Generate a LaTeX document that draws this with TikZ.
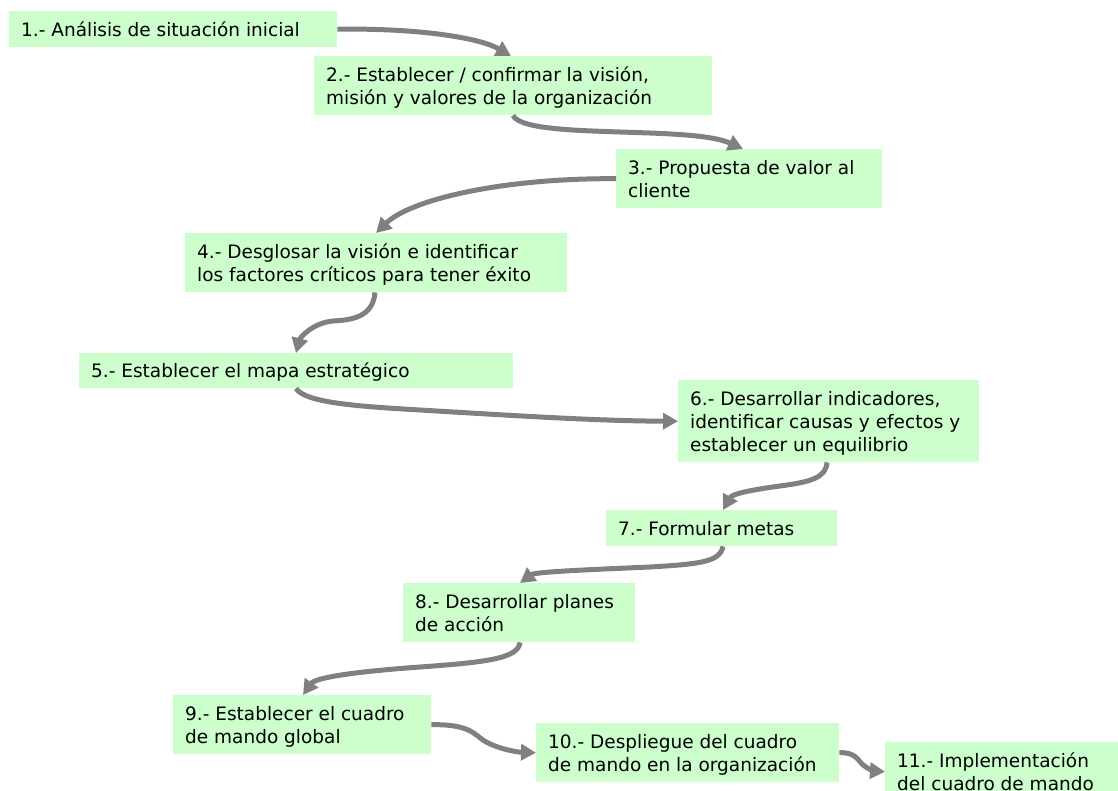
\documentclass[tikz,border=0pt]{standalone}
\usepackage{fontspec}
\setmainfont{DejaVu Sans}
\usetikzlibrary{arrows.meta}
\definecolor{boxgreen}{HTML}{CCFFCC}
\definecolor{flowgray}{HTML}{808080}
% left-aligned block of lines that never wraps, set slightly below the box centre
\newcommand\steptext[2]{\raisebox{-2.5pt}[\height][\depth]{\makebox[#1][l]{\begin{tabular}{@{}l@{}}#2\end{tabular}}}}
\begin{document}
\begin{tikzpicture}[x=1pt,y=-1pt,
  stage/.style={fill=boxgreen, anchor=north west, inner xsep=12pt, inner ysep=0pt,
    font=\fontsize{18.5}{23}\selectfont, text=black},
  flow/.style={draw=flowgray, line width=5pt, -{Triangle[length=15pt,width=16pt]}}]
\fill[white] (0,0) rectangle (1118,791);
\useasboundingbox (0,0) rectangle (1118,791);

% process stages
\node[stage, minimum width=328pt, minimum height=36pt] (n1) at (9,11)
  {\steptext{304pt}{1.- Análisis de situación inicial}};
\node[stage, minimum width=398pt, minimum height=59pt] (n2) at (314,56)
  {\steptext{374pt}{2.- Establecer / confirmar la visión,\\misión y valores de la organización}};
\node[stage, minimum width=266pt, minimum height=59pt] (n3) at (616,149)
  {\steptext{242pt}{3.- Propuesta de valor al\\cliente}};
\node[stage, minimum width=382pt, minimum height=59pt] (n4) at (185,233)
  {\steptext{358pt}{4.- Desglosar la visión e identificar\\los factores críticos para tener éxito}};
\node[stage, minimum width=434pt, minimum height=35pt] (n5) at (79,353)
  {\steptext{410pt}{5.- Establecer el mapa estratégico}};
\node[stage, minimum width=301pt, minimum height=82pt] (n6) at (678,380)
  {\steptext{277pt}{6.- Desarrollar indicadores,\\identificar causas y efectos y\\establecer un equilibrio}};
\node[stage, minimum width=231pt, minimum height=36pt] (n7) at (606,510)
  {\steptext{207pt}{7.- Formular metas}};
\node[stage, minimum width=232pt, minimum height=59pt] (n8) at (403,583)
  {\steptext{208pt}{8.- Desarrollar planes\\de acción}};
\node[stage, minimum width=258pt, minimum height=59pt] (n9) at (173,695)
  {\steptext{234pt}{9.- Establecer el cuadro\\de mando global}};
\node[stage, minimum width=303pt, minimum height=59pt] (n10) at (536,723)
  {\steptext{279pt}{10.- Despliegue del cuadro\\de mando en la organización}};
\node[stage, minimum width=245pt, minimum height=59pt] (n11) at (885,742)
  {\steptext{221pt}{11.- Implementación\\del cuadro de mando}};

% connectors
\draw[flow] (n1.east) .. controls (420,28) and (480,38) .. ([xshift=197pt]n2.north west);
\draw[flow] ([xshift=199pt]n2.south west) .. controls (525,140) and (690,125) .. ([xshift=127pt]n3.north west);
\draw[flow] (n3.west) .. controls (500,178) and (410,200) .. ([xshift=191pt]n4.north west);
\draw[flow] ([xshift=190pt]n4.south west) .. controls (373,318) and (350,320) .. (333,321)
  .. controls (312,323) and (300,338) .. ([xshift=217pt]n5.north west);
\draw[flow] ([xshift=217pt]n5.south west) .. controls (305,402) and (350,406) .. (420,410)
  .. controls (520,416) and (600,421) .. (n6.west);
\draw[flow] ([xshift=149pt]n6.south west) .. controls (826,478) and (810,482) .. (780,486)
  .. controls (750,490) and (732,494) .. ([xshift=117pt]n7.north west);
\draw[flow] ([xshift=117pt]n7.south west) .. controls (720,562) and (700,564) .. (650,567)
  .. controls (580,570) and (535,572) .. ([xshift=117pt]n8.north west);
\draw[flow] ([xshift=117pt]n8.south west) .. controls (518,658) and (490,662) .. (420,667)
  .. controls (350,672) and (315,678) .. ([xshift=130pt]n9.north west);
\draw[flow] (n9.east) .. controls (470,724) and (475,735) .. (483,740)
  .. controls (495,748) and (515,752) .. (n10.west);
\draw[flow] (n10.east) .. controls (855,752) and (858,760) .. (862,764)
  .. controls (867,769) and (875,771) .. (n11.west);
\end{tikzpicture}
\end{document}
